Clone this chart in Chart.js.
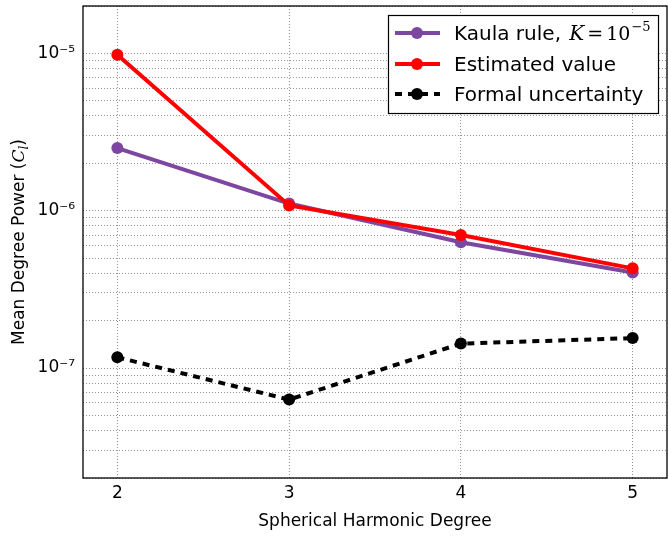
<!DOCTYPE html>
<html>
<head>
<meta charset="utf-8">
<script src="https://cdn.jsdelivr.net/npm/chart.js@4.4.1/dist/chart.umd.min.js"></script>
<style>
  html, body { margin: 0; padding: 0; background: #fff; }
  #wrap { width: 668px; height: 537px; }
</style>
</head>
<body>
<div id="wrap"><canvas id="powerChart" width="668" height="537"></canvas></div>
<script>
// values
const degrees = [2, 3, 4, 5];
const kaulaValues = [2.5e-6, 1.11e-6, 6.3e-7, 4.05e-7];
const estimatedValues = [9.8e-6, 1.08e-6, 7.0e-7, 4.3e-7];
const uncertaintyValues = [1.17e-7, 6.3e-8, 1.43e-7, 1.55e-7];

const xTicks = [2, 3, 4, 5];
const yMajorTicks = [1e-7, 1e-6, 1e-5];
const yTickLabels = ['10\u207B\u2077', '10\u207B\u2076', '10\u207B\u2075'];
const seriesLabels = ['Kaula rule, ', 'Estimated value', 'Formal uncertainty'];

const purple = 'rgb(125,70,160)';
const red = 'rgb(255,0,0)';
const gridColor = 'rgba(120,120,120,0.8)';
const sans = 'DejaVu Sans';

function toPoints(vals) {
  return degrees.map((d, i) => ({x: d, y: vals[i]}));
}

// frame, axis titles and legend box
const decorations = {
  id: 'decorations',
  afterDraw(chart) {
    const ctx = chart.ctx;
    const a = chart.chartArea;
    ctx.save();
    ctx.strokeStyle = '#000';
    ctx.lineWidth = 1.3;
    ctx.strokeRect(a.left, a.top, a.right - a.left, a.bottom - a.top);

    // x title
    ctx.fillStyle = '#000';
    ctx.font = '17px "' + sans + '"';
    ctx.textAlign = 'center';
    ctx.textBaseline = 'middle';
    ctx.fillText('Spherical Harmonic Degree', (a.left + a.right) / 2, 522);

    // y title with math part
    ctx.save();
    ctx.translate(18, (a.top + a.bottom) / 2);
    ctx.rotate(-Math.PI / 2);
    ctx.textAlign = 'left';
    ctx.textBaseline = 'alphabetic';
    const parts = [
      {t: 'Mean Degree Power (', f: '17px "' + sans + '"', dy: 0},
      {t: 'C', f: 'italic 17px "DejaVu Serif"', dy: 0},
      {t: 'l', f: 'italic 12px "DejaVu Serif"', dy: 4},
      {t: ')', f: '17px "' + sans + '"', dy: 0}
    ];
    let total = 0;
    parts.forEach(p => { ctx.font = p.f; p.w = ctx.measureText(p.t).width; total += p.w; });
    let px = -total / 2;
    parts.forEach(p => { ctx.font = p.f; ctx.fillText(p.t, px, 6 + p.dy); px += p.w; });
    ctx.restore();

    // legend
    const bx = 388, by = 15, bw = 270, bh = 98;
    ctx.fillStyle = '#fff';
    ctx.fillRect(bx, by, bw, bh);
    ctx.strokeStyle = '#000';
    ctx.lineWidth = 1.2;
    ctx.strokeRect(bx + 0.5, by + 0.5, bw, bh);
    const rows = [33, 64, 94];
    chart.data.datasets.forEach((ds, i) => {
      const y = rows[i];
      ctx.strokeStyle = ds.borderColor;
      ctx.lineWidth = ds.borderWidth;
      ctx.setLineDash(ds.borderDash || []);
      ctx.beginPath();
      ctx.moveTo(395, y);
      ctx.lineTo(440, y);
      ctx.stroke();
      ctx.setLineDash([]);
      ctx.fillStyle = ds.pointBackgroundColor;
      ctx.beginPath();
      ctx.arc(417, y, 6, 0, Math.PI * 2);
      ctx.fill();
      ctx.fillStyle = '#000';
      ctx.textAlign = 'left';
      ctx.textBaseline = 'alphabetic';
      ctx.font = '20px "' + sans + '"';
      let tx = 454;
      ctx.fillText(ds.label, tx, y + 7);
      if (i === 0) {
        tx += ctx.measureText(ds.label).width + 2;
        const m = [
          {t: 'K', f: 'italic 20px "DejaVu Serif"', dy: 0, gap: 3},
          {t: '=', f: '19px "DejaVu Serif"', dy: 0, gap: 3},
          {t: '10', f: '19px "DejaVu Serif"', dy: 0, gap: 1},
          {t: '\u22125', f: '13px "DejaVu Serif"', dy: -9, gap: 0}
        ];
        m.forEach(p => {
          ctx.font = p.f;
          ctx.fillText(p.t, tx, y + 7 + p.dy);
          tx += ctx.measureText(p.t).width + p.gap;
        });
      }
    });
    ctx.restore();
  }
};

new Chart(document.getElementById('powerChart'), {
  type: 'line',
  data: {
    datasets: [{
      label: seriesLabels[0],
      data: toPoints(kaulaValues),
      borderColor: purple,
      backgroundColor: purple,
      pointBackgroundColor: purple,
      borderWidth: 4,
      pointRadius: 6,
      pointBorderWidth: 0,
      order: 2
    }, {
      label: seriesLabels[1],
      data: toPoints(estimatedValues),
      borderColor: red,
      backgroundColor: red,
      pointBackgroundColor: red,
      borderWidth: 4,
      pointRadius: 6,
      pointBorderWidth: 0,
      order: 1
    }, {
      label: seriesLabels[2],
      data: toPoints(uncertaintyValues),
      borderColor: '#000',
      backgroundColor: '#000',
      pointBackgroundColor: '#000',
      borderWidth: 4,
      borderDash: [7, 6],
      pointRadius: 6,
      pointBorderWidth: 0,
      order: 3
    }]
  },
  plugins: [decorations],
  options: {
    responsive: false,
    animation: false,
    devicePixelRatio: 1,
    layout: {autoPadding: false, padding: {top: 6, right: 1, left: 0, bottom: 0}},
    plugins: {
      legend: {display: false},
      tooltip: {enabled: false}
    },
    scales: {
      x: {
        type: 'linear',
        min: 1.8,
        max: 5.2,
        afterBuildTicks: s => { s.ticks = xTicks.map(v => ({value: v})); },
        afterFit: s => { s.height = 59; s.paddingLeft = 0; s.paddingRight = 0; },
        grid: {color: gridColor, lineWidth: 1, drawTicks: false},
        border: {display: false, dash: [1, 2]},
        ticks: {
          color: '#000',
          padding: 5,
          font: {family: sans, size: 17},
          callback: v => String(v)
        }
      },
      y: {
        type: 'logarithmic',
        min: 2e-8,
        max: 2e-5,
        afterBuildTicks: s => {
          const t = [];
          for (let e = -8; e <= -5; e++) {
            for (let m = 1; m <= 9; m++) {
              const v = m * Math.pow(10, e);
              if (v >= 2e-8 * 0.999 && v <= 2e-5 * 1.001) t.push({value: v});
            }
          }
          s.ticks = t;
        },
        afterFit: s => { s.width = 83; s.paddingTop = 0; s.paddingBottom = 0; },
        grid: {color: gridColor, lineWidth: 1, drawTicks: false},
        border: {display: false, dash: [1, 2]},
        ticks: {
          autoSkip: false,
          color: '#000',
          padding: 8,
          font: {family: sans, size: 17},
          callback: v => {
            const i = yMajorTicks.findIndex(t => Math.abs(Math.log10(t) - Math.log10(v)) < 1e-6);
            return i >= 0 ? yTickLabels[i] : '';
          }
        }
      }
    }
  }
});
</script>
</body>
</html>
